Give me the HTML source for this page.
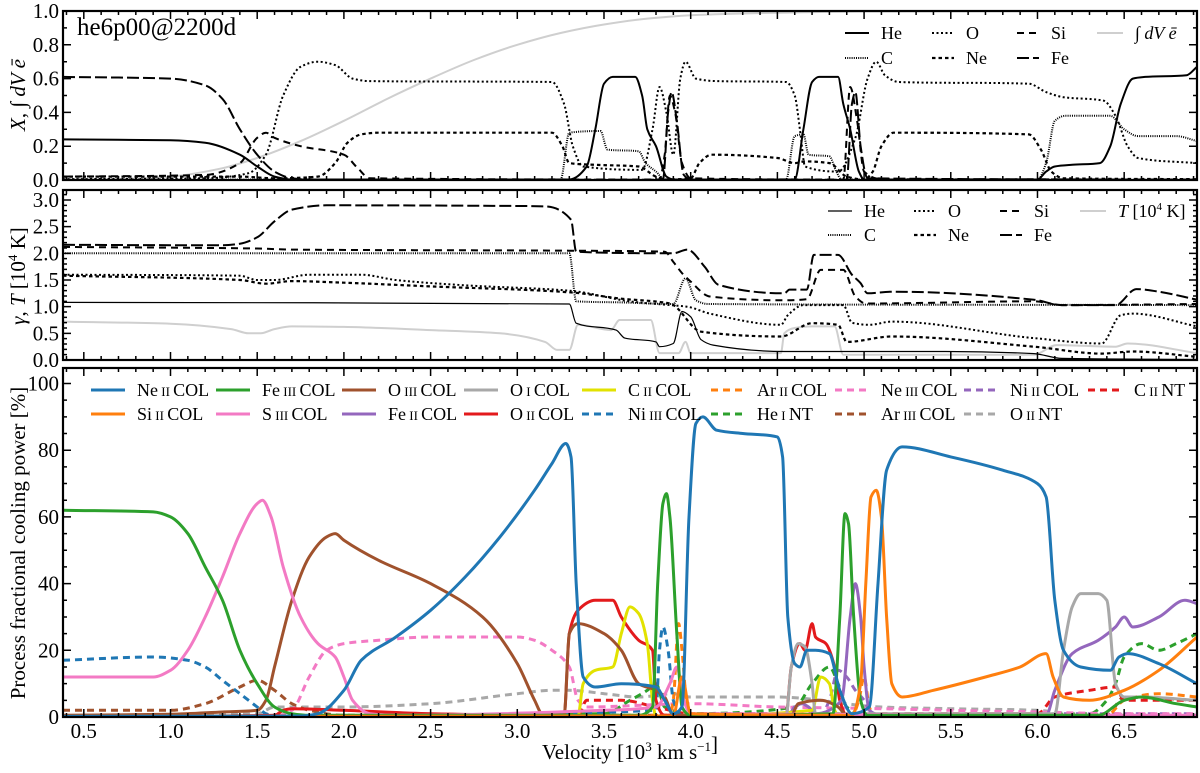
<!DOCTYPE html>
<html><head><meta charset="utf-8">
<style>
html,body{margin:0;padding:0;background:#fff;}
svg{display:block;font-family:"Liberation Serif","DejaVu Serif",serif;}
</style></head>
<body>
<svg id="chart" width="1200" height="773" viewBox="0 0 1200 773" xmlns="http://www.w3.org/2000/svg">
<defs>
<clipPath id="c1"><rect x="63" y="11" width="1134" height="170"/></clipPath>
<clipPath id="c2"><rect x="63" y="190" width="1134" height="171"/></clipPath>
<clipPath id="c3"><rect x="63" y="368" width="1134" height="350"/></clipPath>
</defs>
<g id="p1"></g>
<g id="p2"></g>
<g id="p3"></g>
<g id="axes"></g>
<text x="77" y="35" font-size="25">he6p00@2200d</text>
<text transform="translate(25,95) rotate(-90)" text-anchor="middle" font-size="21"><tspan font-style="italic">X</tspan>, ∫ <tspan font-style="italic">dV ē</tspan></text>
<text transform="translate(25,276) rotate(-90)" text-anchor="middle" font-size="21"><tspan font-style="italic">γ</tspan>, <tspan font-style="italic">T</tspan> [10<tspan font-size="13" dy="-8">4</tspan><tspan dy="8"> K]</tspan></text>
<text transform="translate(25,543) rotate(-90)" text-anchor="middle" font-size="21">Process fractional cooling power [%]</text>
<text x="630" y="759" text-anchor="middle" font-size="21">Velocity [10<tspan font-size="13" dy="-8">3</tspan><tspan dy="8"> km s</tspan><tspan font-size="13" dy="-8">−1</tspan>]</text>
</svg>
<script>
// ---- panel 1 data: mass fractions ----
const xHe=[[0.38,0.24],[1.0,0.235],[1.2,0.22],[1.4,0.15],[1.5,0.08],[1.6,0.02],[1.7,0.003],[3.3,0.003],[3.4,0.08],[3.45,0.3],[3.5,0.57],[3.55,0.61],[3.68,0.61],[3.72,0.5],[3.75,0.3],[3.8,0.2],[3.86,0.02],[3.9,0.003],[4.6,0.003],[4.65,0.3],[4.7,0.58],[4.74,0.61],[4.85,0.61],[4.88,0.45],[4.92,0.3],[4.97,0.05],[5.0,0.003],[6.0,0.003],[6.05,0.05],[6.1,0.08],[6.2,0.09],[6.36,0.1],[6.42,0.2],[6.48,0.45],[6.55,0.6],[6.62,0.61],[6.86,0.62],[6.92,0.67]];
const xC=[[0.38,0.003],[3.25,0.003],[3.3,0.28],[3.48,0.29],[3.52,0.18],[3.7,0.17],[3.74,0.1],[3.8,0.05],[3.85,0.003],[4.55,0.003],[4.6,0.26],[4.65,0.27],[4.68,0.15],[4.8,0.14],[4.84,0.05],[4.87,0.003],[6.0,0.003],[6.05,0.1],[6.1,0.35],[6.16,0.38],[6.42,0.38],[6.5,0.3],[6.58,0.26],[6.8,0.26],[6.92,0.23]];
const xO=[[0.38,0.005],[1.2,0.01],[1.45,0.04],[1.55,0.15],[1.65,0.5],[1.75,0.67],[1.85,0.7],[1.95,0.68],[2.05,0.6],[2.15,0.585],[3.2,0.58],[3.27,0.45],[3.32,0.2],[3.38,0.08],[3.72,0.06],[3.78,0.3],[3.82,0.55],[3.86,0.4],[3.9,0.15],[3.94,0.6],[3.97,0.7],[4.03,0.6],[4.15,0.585],[4.55,0.58],[4.6,0.5],[4.63,0.3],[4.66,0.08],[4.85,0.05],[4.95,0.25],[5.02,0.6],[5.07,0.7],[5.12,0.62],[5.2,0.58],[5.95,0.57],[6.05,0.52],[6.15,0.49],[6.38,0.47],[6.45,0.38],[6.52,0.2],[6.58,0.13],[6.92,0.1]];
const xNe=[[0.38,0.02],[1.4,0.02],[1.6,0.01],[1.85,0.02],[1.95,0.1],[2.02,0.22],[2.1,0.27],[2.2,0.28],[3.2,0.28],[3.26,0.2],[3.3,0.1],[3.45,0.09],[3.7,0.08],[3.8,0.02],[3.86,0.003],[4.0,0.01],[4.05,0.1],[4.12,0.15],[4.5,0.13],[4.6,0.1],[4.66,0.11],[4.8,0.1],[4.9,0.02],[5.0,0.003],[5.05,0.05],[5.1,0.2],[5.17,0.28],[5.95,0.27],[6.02,0.18],[6.08,0.05],[6.15,0.01],[6.92,0.005]];
const xSi=[[0.38,0.02],[1.2,0.03],[1.4,0.1],[1.5,0.25],[1.55,0.28],[1.6,0.25],[1.75,0.2],[2.0,0.15],[2.08,0.07],[2.15,0.01],[3.82,0.003],[3.85,0.15],[3.88,0.5],[3.91,0.4],[3.95,0.1],[4.0,0.01],[4.88,0.003],[4.92,0.55],[4.96,0.35],[5.0,0.05],[5.1,0.005],[6.92,0.003]];
const xFe=[[0.38,0.61],[1.0,0.6],[1.2,0.56],[1.3,0.48],[1.4,0.3],[1.5,0.15],[1.6,0.05],[1.7,0.01],[1.8,0.002],[3.84,0.002],[3.87,0.4],[3.89,0.52],[3.92,0.35],[3.96,0.03],[4.0,0.002],[4.9,0.002],[4.93,0.45],[4.95,0.52],[4.98,0.2],[5.02,0.01],[6.92,0.002]];
const xInt=[[0.38,0.0],[0.7,0.005],[1.0,0.02],[1.3,0.07],[1.5,0.13],[1.75,0.23],[2.0,0.35],[2.25,0.48],[2.5,0.6],[2.75,0.71],[3.0,0.8],[3.25,0.87],[3.5,0.92],[3.75,0.955],[4.0,0.975],[4.5,0.99],[5.0,0.997],[6.92,1.0]];
// ---- panel 2 data: gamma and temperature ----
const gHe=[[0.38,1.08],[3.3,1.05],[3.34,0.69],[3.57,0.56],[3.62,0.41],[3.8,0.34],[3.82,0.25],[3.9,0.31],[3.95,0.91],[4.0,0.81],[4.06,0.38],[4.13,0.28],[4.54,0.16],[5.47,0.16],[5.98,0.12],[6.14,0.03],[6.92,0.01]];
const gC=[[0.38,2.0],[3.3,2.0],[3.34,1.1],[3.6,1.08],[3.9,1.05],[3.97,1.53],[4.03,1.12],[4.1,1.05],[6.92,1.03]];
const gO=[[0.38,1.6],[1.4,1.58],[1.5,1.5],[1.6,1.5],[1.8,1.6],[2.1,1.6],[2.3,1.5],[2.7,1.4],[3.3,1.3],[3.67,1.09],[3.88,1.03],[3.98,1.0],[4.11,0.87],[4.52,0.66],[4.56,0.84],[4.65,1.03],[4.88,1.03],[4.93,0.7],[5.03,0.66],[5.16,0.72],[5.98,0.41],[6.37,0.31],[6.48,0.84],[6.55,0.87],[6.92,0.63]];
const gNe=[[0.38,1.58],[1.4,1.5],[1.55,1.43],[1.7,1.48],[2.0,1.45],[2.5,1.38],[3.3,1.27],[3.6,1.15],[3.88,1.06],[4.06,0.53],[4.52,0.44],[4.7,0.69],[4.85,0.66],[4.9,0.34],[5.16,0.44],[5.98,0.25],[6.37,0.12],[6.55,0.16],[6.92,0.06]];
const gSi=[[0.38,2.12],[1.5,2.09],[1.7,2.07],[3.3,2.05],[3.85,2.03],[3.9,1.84],[3.95,1.63],[4.0,1.47],[4.11,1.19],[4.54,1.12],[4.67,1.14],[4.75,1.69],[4.88,1.69],[4.95,1.19],[5.01,1.06],[5.98,1.1],[6.14,1.03],[6.92,1.05]];
const gFe=[[0.38,2.16],[1.3,2.15],[1.4,2.18],[1.5,2.3],[1.6,2.6],[1.7,2.82],[1.9,2.9],[2.9,2.89],[3.16,2.88],[3.31,2.63],[3.34,2.03],[3.9,2.0],[3.98,2.07],[4.08,1.75],[4.16,1.41],[4.54,1.25],[4.57,1.32],[4.67,1.32],[4.71,1.97],[4.85,1.97],[4.93,1.6],[4.98,1.44],[5.02,1.25],[5.16,1.28],[5.98,1.13],[6.14,1.03],[6.45,1.03],[6.57,1.33],[6.7,1.28],[6.92,1.13]];
const gT=[[0.38,0.72],[1.0,0.68],[1.35,0.58],[1.45,0.5],[1.52,0.5],[1.6,0.58],[1.7,0.63],[2.0,0.62],[2.5,0.56],[2.9,0.5],[3.16,0.34],[3.23,0.19],[3.3,0.19],[3.35,0.66],[3.54,0.56],[3.59,0.75],[3.77,0.75],[3.82,0.13],[3.93,0.13],[3.97,0.34],[4.0,0.13],[4.52,0.13],[4.54,0.5],[4.6,0.6],[4.7,0.63],[4.83,0.63],[4.88,0.1],[5.98,0.1],[6.11,0.28],[6.45,0.25],[6.52,0.31],[6.92,0.13]];
// ---- panel 3 data: cooling fractions [%] ----
const neIICol=[[0.38,0.2],[1.75,0.3],[1.85,1],[2.0,8],[2.1,17],[2.3,24],[2.5,32],[2.7,42],[2.9,54],[3.1,68],[3.2,76],[3.28,82],[3.31,78],[3.34,40],[3.38,12],[3.45,9],[3.6,10],[3.8,9],[3.85,5],[3.9,1],[3.95,3],[3.99,60],[4.03,88],[4.07,90],[4.15,86],[4.3,85],[4.5,84],[4.53,78],[4.56,30],[4.6,16],[4.63,15],[4.67,20],[4.72,20],[4.8,19],[4.86,8],[4.93,1],[5.03,3],[5.08,40],[5.13,74],[5.22,81],[5.5,78],[5.8,74],[6.0,70],[6.05,66],[6.1,35],[6.15,20],[6.25,15],[6.42,14],[6.47,18],[6.52,19],[6.7,16],[6.92,10]];
const siIICol=[[0.38,0.2],[3.9,0.3],[3.95,12],[4.0,1],[4.93,0.5],[4.98,10],[5.01,40],[5.04,66],[5.07,68],[5.1,60],[5.13,30],[5.16,10],[5.22,6],[5.4,8],[5.7,12],[5.9,15],[6.05,19],[6.09,12],[6.15,6],[6.3,5],[6.5,8],[6.7,14],[6.92,24]];
const feIIICol=[[0.38,62],[0.9,61.5],[1.0,60],[1.1,55],[1.2,45],[1.3,35],[1.4,20],[1.5,10],[1.6,3],[1.7,1],[1.8,0.5],[3.7,0.5],[3.78,3],[3.81,40],[3.84,64],[3.86,67],[3.88,60],[3.92,25],[3.95,3],[4.0,0.5],[4.82,1],[4.86,30],[4.89,61],[4.91,58],[4.94,30],[4.98,5],[5.02,0.5],[6.35,0.5],[6.5,5],[6.6,6],[6.8,4],[6.92,3]];
const sIIICol=[[0.38,12],[0.9,12],[1.0,14],[1.1,20],[1.2,30],[1.3,42],[1.4,55],[1.5,64],[1.53,65],[1.58,60],[1.65,45],[1.75,30],[1.85,22],[1.95,18],[2.0,12],[2.05,5],[2.15,1],[2.3,0.5],[3.5,2],[3.8,3],[3.88,10],[3.92,15],[3.96,5],[4.0,1],[6.92,0.5]];
const oIIICol=[[0.38,0.5],[1.0,0.8],[1.3,1.5],[1.5,2],[1.55,5],[1.6,15],[1.7,35],[1.8,48],[1.9,54],[1.95,55],[2.0,53],[2.2,47],[2.5,40],[2.8,30],[3.0,16],[3.1,5],[3.15,0.5],[3.27,0.5],[3.3,25],[3.35,28],[3.5,25],[3.6,20],[3.7,10],[3.8,8],[3.85,6],[3.9,0.5],[4.58,0.5],[4.62,4],[4.75,5],[4.85,3],[4.9,0.5],[6.92,0.3]];
const oICol=[[0.38,0.2],[4.55,0.3],[4.58,15],[4.62,22],[4.66,21],[4.7,10],[4.72,1],[6.1,1],[6.15,20],[6.2,33],[6.25,37],[6.35,37],[6.4,35],[6.45,10],[6.5,6],[6.6,6],[6.92,5]];
const cIICol=[[0.38,0.1],[3.35,0.2],[3.38,10],[3.45,14],[3.55,15],[3.6,25],[3.65,33],[3.7,31],[3.75,22],[3.78,5],[3.8,0.2],[4.7,2],[4.75,12],[4.8,10],[4.83,2],[4.86,0.2],[6.92,0.1]];
const feIICol=[[0.38,0.1],[4.56,0.3],[4.6,3],[4.64,4],[4.68,3],[4.72,1],[4.87,5],[4.92,30],[4.95,40],[4.98,30],[5.0,15],[5.03,2],[5.1,0.5],[6.05,0.5],[6.1,8],[6.2,19],[6.35,23],[6.45,27],[6.5,30],[6.55,27],[6.7,30],[6.85,35],[6.92,34]];
const oIICol=[[0.38,0.1],[1.6,0.5],[1.65,2],[1.7,2.5],[2.0,2],[2.5,1],[3.2,0.5],[3.27,0.5],[3.3,25],[3.35,32],[3.45,35],[3.55,35],[3.6,30],[3.7,23],[3.78,20],[3.8,5],[3.85,0.5],[4.55,0.5],[4.58,15],[4.63,22],[4.66,20],[4.7,28],[4.72,24],[4.78,22],[4.83,15],[4.86,5],[4.9,0.5],[6.92,0.3]];
const niIIICol=[[0.38,17],[0.9,18],[1.1,17],[1.2,15],[1.3,11],[1.4,7],[1.5,3],[1.55,1],[1.6,0.3],[3.8,2],[3.82,20],[3.84,27],[3.87,20],[3.9,5],[3.95,0.5],[6.92,0.3]];
const arIICol=[[0.38,0.3],[3.88,0.5],[3.9,5],[3.93,28],[3.95,20],[3.98,3],[4.02,0.5],[4.93,0.5],[4.97,5],[5.0,12],[5.03,3],[5.06,0.5],[6.4,0.5],[6.5,5],[6.7,7],[6.92,6]];
const neIIICol=[[0.38,0.2],[1.6,0.3],[1.7,2],[1.8,12],[1.9,20],[2.0,22],[2.2,23],[2.5,24],[3.0,24],[3.1,23],[3.2,20],[3.3,15],[3.35,5],[3.4,3],[4.0,4],[4.5,3],[5.1,2.5],[5.5,2],[6.0,1.5],[6.5,1],[6.92,1]];
const niIICol=[[0.38,0.1],[4.75,0.5],[4.8,5],[4.85,14],[4.9,12],[4.95,8],[5.0,5],[5.05,0.5],[6.3,1],[6.92,1]];
const cIINT=[[0.38,0.1],[3.35,0.5],[3.4,5],[3.6,5],[3.8,3],[4.0,1],[4.6,1],[6.0,1],[6.1,6],[6.3,8],[6.45,9],[6.5,5],[6.92,5]];
const heINT=[[0.38,0.1],[3.5,1],[3.65,5],[3.75,8],[3.8,10],[3.85,3],[4.0,1],[4.6,3],[4.7,10],[4.8,15],[4.85,10],[4.9,3],[5.0,0.5],[6.3,1],[6.4,5],[6.45,10],[6.5,18],[6.6,22],[6.7,20],[6.8,22],[6.92,25]];
const arIIICol=[[0.38,2],[1.0,2],[1.2,4],[1.4,9],[1.5,11],[1.6,8],[1.7,4],[1.8,2],[2.0,0.5],[6.4,0.5],[6.5,6],[6.92,5]];
const oIINT=[[0.38,0.2],[1.5,1],[1.6,3],[1.8,3],[2.0,3],[2.5,4],[3.0,7],[3.2,8],[3.3,8],[3.5,7],[3.7,6],[3.9,7],[4.0,6],[4.5,6],[5.1,3],[5.5,2.5],[6.0,2],[6.2,1],[6.92,0.5]];
// ---- tick labels ----
const xTickLabels=["0.5","1.0","1.5","2.0","2.5","3.0","3.5","4.0","4.5","5.0","5.5","6.0","6.5"];
const y1TickLabels=["0.0","0.2","0.4","0.6","0.8","1.0"];
const y2TickLabels=["0.0","0.5","1.0","1.5","2.0","2.5","3.0"];
const y3TickLabels=["0","20","40","60","80","100"];

const NS="http://www.w3.org/2000/svg";
const X0=63,X1=1197,VMIN=0.38,VMAX=6.92;
function xs(v){return X0+(v-VMIN)*(X1-X0)/(VMAX-VMIN);}
const P1={top:11,bot:180,min:0,max:1.0};
const P2={top:190,bot:360,min:0,max:3.1875};
const P3={top:368,bot:717,min:0,max:104.65};
function ys(p,val){return p.bot-(val-p.min)*(p.bot-p.top)/(p.max-p.min);}
function mk(tag,attrs,parent){const e=document.createElementNS(NS,tag);for(const k in attrs)e.setAttribute(k,attrs[k]);parent.appendChild(e);return e;}
// monotone cubic path
function pathD(p,data){
  const P=data.map(d=>[xs(d[0]),ys(p,d[1])]);const n=P.length;
  if(n<3)return P.map((q,i)=>(i?"L":"M")+q[0].toFixed(1)+","+q[1].toFixed(1)).join("");
  const dx=[],sl=[];for(let i=0;i<n-1;i++){dx.push(P[i+1][0]-P[i][0]);sl.push((P[i+1][1]-P[i][1])/(dx[i]||1e-6));}
  const m=[sl[0]];for(let i=1;i<n-1;i++){if(sl[i-1]*sl[i]<=0)m.push(0);else{const w1=2*dx[i]+dx[i-1],w2=dx[i]+2*dx[i-1];m.push((w1+w2)/(w1/sl[i-1]+w2/sl[i]));}}m.push(sl[n-2]);
  let s="M"+P[0][0].toFixed(1)+","+P[0][1].toFixed(1);
  for(let i=0;i<n-1;i++){const h=dx[i]/3;s+="C"+(P[i][0]+h).toFixed(1)+","+(P[i][1]+m[i]*h).toFixed(1)+" "+(P[i+1][0]-h).toFixed(1)+","+(P[i+1][1]-m[i+1]*h).toFixed(1)+" "+P[i+1][0].toFixed(1)+","+P[i+1][1].toFixed(1);}
  return s;
}

function drawSeries(g,p,clip,data,color,width,dash,name){
  const el=mk("path",{d:pathD(p,data),fill:"none",stroke:color,"stroke-width":width,"stroke-linejoin":"round","clip-path":"url(#"+clip+")"},g);
  if(dash)el.setAttribute("stroke-dasharray",dash);
  
  
}
const p1=document.getElementById("p1"),p2=document.getElementById("p2"),p3=document.getElementById("p3"),ax=document.getElementById("axes");

// panel 1
drawSeries(p1,P1,"c1",xInt,"#cfcfcf",2,null,"series-integral");
drawSeries(p1,P1,"c1",xC,"#000",2,"1,1.2","series-c");
drawSeries(p1,P1,"c1",xO,"#000",2,"2,2.5","series-o");
drawSeries(p1,P1,"c1",xNe,"#000",2.2,"3.5,3","series-ne");
drawSeries(p1,P1,"c1",xSi,"#000",2,"7,5","series-si");
drawSeries(p1,P1,"c1",xFe,"#000",2,"12,4","series-fe");
drawSeries(p1,P1,"c1",xHe,"#000",2,null,"series-he");
// panel 2
drawSeries(p2,P2,"c2",gT,"#cfcfcf",2,null,"series-temperature");
drawSeries(p2,P2,"c2",gC,"#000",2,"1,1.2","series-gamma-c");
drawSeries(p2,P2,"c2",gO,"#000",2,"2,2.5","series-gamma-o");
drawSeries(p2,P2,"c2",gNe,"#000",2.2,"3.5,3","series-gamma-ne");
drawSeries(p2,P2,"c2",gSi,"#000",2,"7,5","series-gamma-si");
drawSeries(p2,P2,"c2",gFe,"#000",2,"12,4","series-gamma-fe");
drawSeries(p2,P2,"c2",gHe,"#000",1.2,null,"series-gamma-he");
// panel 3
const C={blue:"#1f77b4",orange:"#ff7f0e",green:"#2ca02c",brown:"#a0522d",gray:"#a8a8a8",yellow:"#e2e200",pink:"#f37ac4",purple:"#9467bd",red:"#e31a1c"};
const D="7,5";
drawSeries(p3,P3,"c3",oIINT,C.gray,3,D,"series-o2-nt");
drawSeries(p3,P3,"c3",arIIICol,C.brown,3,D,"series-ar3-col");
drawSeries(p3,P3,"c3",heINT,C.green,3,D,"series-he1-nt");
drawSeries(p3,P3,"c3",cIINT,C.red,3,D,"series-c2-nt");
drawSeries(p3,P3,"c3",niIICol,C.purple,3,D,"series-ni2-col");
drawSeries(p3,P3,"c3",neIIICol,C.pink,3,D,"series-ne3-col");
drawSeries(p3,P3,"c3",arIICol,C.orange,3,D,"series-ar2-col");
drawSeries(p3,P3,"c3",niIIICol,C.blue,3,D,"series-ni3-col");
drawSeries(p3,P3,"c3",oIICol,C.red,3,null,"series-o2-col");
drawSeries(p3,P3,"c3",feIICol,C.purple,3,null,"series-fe2-col");
drawSeries(p3,P3,"c3",cIICol,C.yellow,3,null,"series-c2-col");
drawSeries(p3,P3,"c3",oICol,C.gray,3,null,"series-o1-col");
drawSeries(p3,P3,"c3",oIIICol,C.brown,3,null,"series-o3-col");
drawSeries(p3,P3,"c3",sIIICol,C.pink,3,null,"series-s3-col");
drawSeries(p3,P3,"c3",feIIICol,C.green,3,null,"series-fe3-col");
drawSeries(p3,P3,"c3",siIICol,C.orange,3,null,"series-si2-col");
drawSeries(p3,P3,"c3",neIICol,C.blue,3,null,"series-ne2-col");

// axes frames + ticks
function frame(p,yLabels,ystep,yminor,name){
  const r=mk("rect",{x:X0,y:p.top,width:X1-X0,height:p.bot-p.top,fill:"none",stroke:"#000","stroke-width":2.2},ax);
  
  
  let s="";
  for(let i=0;i<=70;i++){const v=Math.round((0.4+i*0.1)*10)/10;if(v<VMIN||v>VMAX)continue;const x=xs(v);const maj=Math.abs(v*2-Math.round(v*2))<1e-6;const L=maj?8:4;
    s+="M"+x+","+p.bot+"v"+(-L)+"M"+x+","+p.top+"v"+L;}
  for(let val=p.min;val<=p.max+1e-9;val+=yminor){const y=ys(p,val);const maj=Math.abs(val/ystep-Math.round(val/ystep))<1e-6;const L=maj?8:4;
    s+="M"+X0+","+y+"h"+L+"M"+X1+","+y+"h"+(-L);}
  const t=mk("path",{d:s,stroke:"#000","stroke-width":1.5,fill:"none"},ax);
  
  
  yLabels.forEach((lab,i)=>{const e=mk("text",{x:59,y:ys(p,i*ystep)+7,"text-anchor":"end","font-size":21},ax);e.textContent=lab;
    
    });
}
frame(P1,y1TickLabels,0.2,0.1,"panel1");
frame(P2,y2TickLabels,0.5,0.1,"panel2");
frame(P3,y3TickLabels,20,5,"panel3");
xTickLabels.forEach(lab=>{const e=mk("text",{x:xs(parseFloat(lab)),y:738,"text-anchor":"middle","font-size":21},ax);e.textContent=lab;
  
  });

// legends
function legendEntry(g,x,y,color,width,dash,label,len,name){
  const gg=mk("g",{},g);
  
  
  const l=mk("line",{x1:x,y1:y,x2:x+len,y2:y,stroke:color,"stroke-width":width},gg);
  if(dash)l.setAttribute("stroke-dasharray",dash);
  const t=mk("text",{x:x+len+12,y:y+6,"font-size":18},gg);
  t.innerHTML=label;
}
const lg1=mk("g",{},ax);
legendEntry(lg1,845,33,"#000",2,null,"He",24,"legend-he");
legendEntry(lg1,932,33,"#000",2,"2,2.5","O",22,"legend-o");
legendEntry(lg1,1017,33,"#000",2,"7,5","Si",22,"legend-si");
legendEntry(lg1,1097,33,"#cfcfcf",2,null,'<tspan font-style="italic">∫ dV ē</tspan>',26,"legend-integral");
legendEntry(lg1,845,58,"#000",2,"1,1.2","C",24,"legend-c");
legendEntry(lg1,932,58,"#000",2.2,"3.5,3","Ne",22,"legend-ne");
legendEntry(lg1,1017,58,"#000",2,"12,4","Fe",22,"legend-fe");
const lg2=mk("g",{},ax);
legendEntry(lg2,828,211,"#000",1.2,null,"He",24,"legend-gamma-he");
legendEntry(lg2,914,211,"#000",2,"2,2.5","O",22,"legend-gamma-o");
legendEntry(lg2,1000,211,"#000",2,"7,5","Si",22,"legend-gamma-si");
legendEntry(lg2,1080,211,"#cfcfcf",2,null,'<tspan font-style="italic">T</tspan> [10<tspan font-size="11" dy="-7">4</tspan><tspan dy="7"> K]</tspan>',26,"legend-temperature");
legendEntry(lg2,828,235,"#000",2,"1,1.2","C",24,"legend-gamma-c");
legendEntry(lg2,914,235,"#000",2.2,"3.5,3","Ne",22,"legend-gamma-ne");
legendEntry(lg2,1000,235,"#000",2,"12,4","Fe",22,"legend-gamma-fe");
const lg3=mk("g",{},ax);
const sc=(el,ion)=>el+'<tspan font-size="13"> '+ion+' </tspan>';
const cols=[91,216,342,464,582,711,835,964,1088];
const row1=[[C.blue,null,sc("Ne","II")+"COL"],[C.green,null,sc("Fe","III")+"COL"],[C.brown,null,sc("O","III")+"COL"],[C.gray,null,sc("O","I")+"COL"],[C.yellow,null,sc("C","II")+"COL"],[C.orange,D,sc("Ar","II")+"COL"],[C.pink,D,sc("Ne","III")+"COL"],[C.purple,D,sc("Ni","II")+"COL"],[C.red,D,sc("C","II")+"NT"]];
const row2=[[C.orange,null,sc("Si","II")+"COL"],[C.pink,null,sc("S","III")+"COL"],[C.purple,null,sc("Fe","II")+"COL"],[C.red,null,sc("O","II")+"COL"],[C.blue,D,sc("Ni","III")+"COL"],[C.green,D,sc("He","I")+"NT"],[C.brown,D,sc("Ar","III")+"COL"],[C.gray,D,sc("O","II")+"NT"]];
row1.forEach((e,i)=>legendEntry(lg3,cols[i],390,e[0],3,e[1],e[2],34,"legend-entry-r1-"+i));
row2.forEach((e,i)=>legendEntry(lg3,cols[i],414,e[0],3,e[1],e[2],34,"legend-entry-r2-"+i));
</script>
</body></html>
